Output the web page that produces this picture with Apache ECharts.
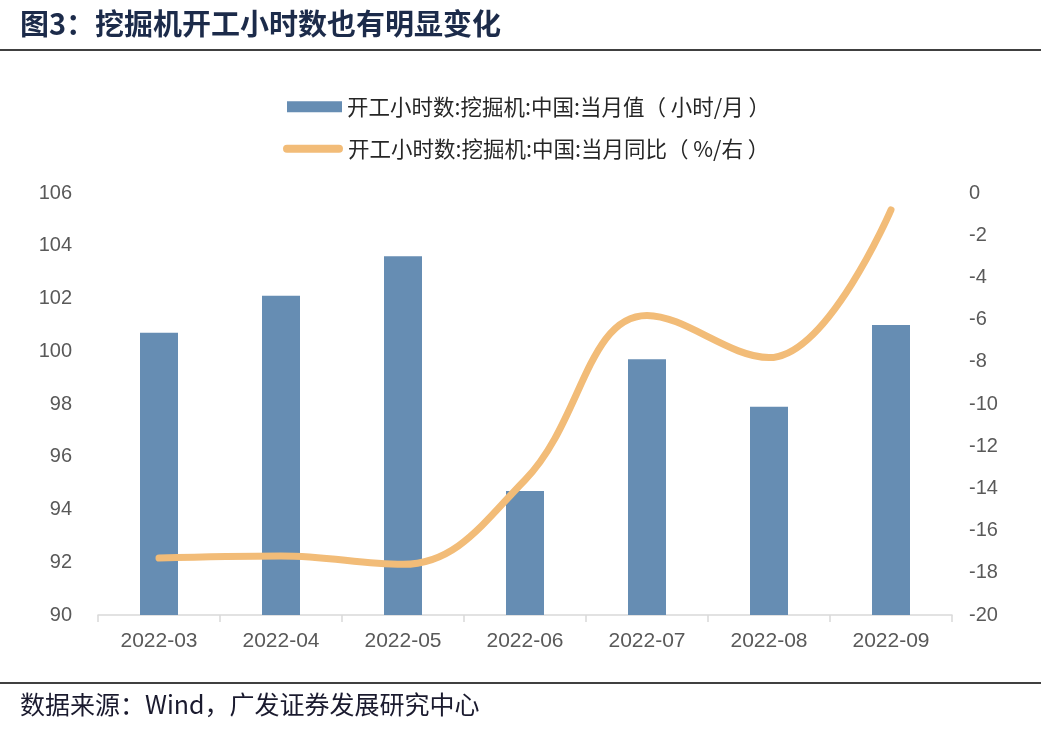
<!DOCTYPE html>
<html>
<head>
<meta charset="utf-8">
<script src="https://cdn.jsdelivr.net/npm/echarts@6/dist/echarts.min.js"></script>
<style>
html,body{margin:0;padding:0;background:#fff;}
#c{width:1041px;height:731px;}
</style>
</head>
<body>
<div id="c"></div>
<script>
var categories = ['2022-03','2022-04','2022-05','2022-06','2022-07','2022-08','2022-09'];
var hoursValues = [100.7, 102.1, 103.6, 94.7, 99.7, 97.9, 101.0];
var yoyValues = [-17.3, -17.2, -17.6, -13.6, -5.8, -7.8, -0.8];
var barName = '开工小时数:挖掘机:中国:当月值（ 小时/月 ）';
var lineName = '开工小时数:挖掘机:中国:当月同比（ %/右 ）';
var titleText = '图3：挖掘机开工小时数也有明显变化';
var sourceText = '数据来源：Wind，广发证券发展研究中心';

var chart = echarts.init(document.getElementById('c'));
var cjk = '"Noto Sans CJK SC", "Noto Sans", sans-serif';
var num = '"Liberation Sans", Arial, sans-serif';
chart.setOption({
  animation: false,
  backgroundColor: '#fff',
  graphic: [
    {type:'text', left:20, top:9, style:{text:titleText, font:'bold 29px ' + cjk, fill:'#1c2b4a'}},
    {type:'line', shape:{x1:0,y1:50,x2:1041,y2:50}, style:{stroke:'#000', lineWidth:1.5}},
    {type:'line', shape:{x1:0,y1:683,x2:1041,y2:683}, style:{stroke:'#000', lineWidth:1.5}},
    {type:'text', left:20, top:692, style:{text:sourceText, font:'25px ' + cjk, fill:'#1a1a2e'}}
  ],
  legend: [
    {data:[barName], left:282, top:91, icon:'rect', itemWidth:55, itemHeight:11,
     textStyle:{fontSize:21.5, color:'#262626', fontFamily:cjk}},
    {data:[lineName], left:278, top:133, icon:'path://M4,0 H56 A4,4 0 0 1 56,8 H4 A4,4 0 0 1 4,0 Z', itemWidth:60, itemHeight:8,
     textStyle:{fontSize:21.5, color:'#262626', fontFamily:cjk}}
  ],
  grid: {left:98, right:89, top:193, bottom:116, containLabel:false},
  xAxis: {
    type:'category', data:categories,
    axisLine:{onZero:false, lineStyle:{color:'#d9d9d9', width:1.5}},
    axisTick:{show:true, length:7, lineStyle:{color:'#d9d9d9', width:1.5}},
    axisLabel:{fontSize:21, color:'#595959', fontFamily:num, margin:16}
  },
  yAxis: [
    {type:'value', min:90, max:106, interval:2, position:'left',
     axisLine:{show:false}, axisTick:{show:false}, splitLine:{show:false},
     axisLabel:{fontSize:20, color:'#595959', fontFamily:num, margin:26}},
    {type:'value', min:-20, max:0, interval:2, position:'right',
     axisLine:{show:false}, axisTick:{show:false}, splitLine:{show:false},
     axisLabel:{fontSize:20, color:'#595959', fontFamily:num, margin:17}}
  ],
  series: [
    {name:barName, type:'bar', data:hoursValues, barWidth:38, yAxisIndex:0,
     itemStyle:{color:'#668db3'}},
    {name:lineName, type:'line', data:yoyValues, yAxisIndex:1, smooth:0.4,
     symbol:'none', lineStyle:{color:'#f2bc78', width:7, cap:'round'}, itemStyle:{color:'#f2bc78'}}
  ]
});
</script>
</body>
</html>
